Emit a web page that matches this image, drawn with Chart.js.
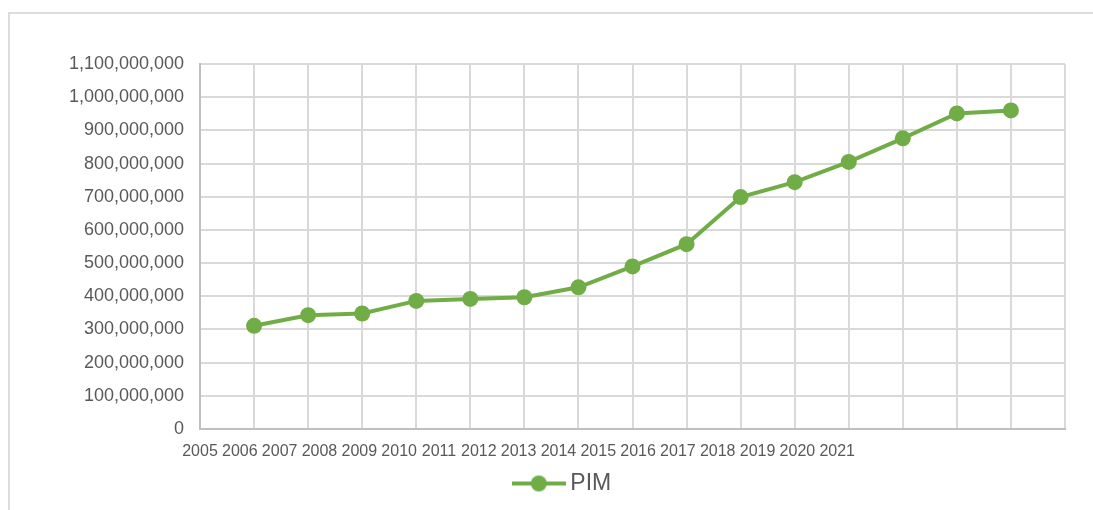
<!DOCTYPE html>
<html>
<head>
<meta charset="utf-8">
<script src="https://cdn.jsdelivr.net/npm/chart.js@4.4.0/dist/chart.umd.min.js"></script>
<style>
  html, body { margin: 0; padding: 0; background: #fff; }
  #wrap { position: relative; width: 1093px; height: 510px; overflow: hidden; }
  #frame { position: absolute; left: 8px; top: 12px; width: 1200px; height: 600px;
           border-left: 2px solid #dcdcdc; border-top: 2px solid #dcdcdc; }
  #chart { position: absolute; left: 0; top: 0; }
</style>
</head>
<body>
<div id="wrap">
  <div id="frame"></div>
  <canvas id="chart" width="1093" height="510"></canvas>
</div>
<script>
// categorías (años) y serie PIM
const yearLabels = ["2005", "2006", "2007", "2008", "2009", "2010", "2011", "2012", "2013",
  "2014", "2015", "2016", "2017", "2018", "2019", "2020", "2021"];
const pimValues = [null, 311000000, 343000000, 348000000, 386000000, 392000000, 397000000,
  427000000, 490000000, 557000000, 699000000, 744000000, 805000000, 876000000,
  951000000, 960000000, null];
const yTicks = { min: 0, max: 1100000000, step: 100000000 };

const GREEN = "#70AD47";
const TEXT = "#595959";

// icono de la leyenda: línea con marcador
function legendIcon() {
  const c = document.createElement("canvas");
  c.width = 54;
  c.height = 18;
  const g = c.getContext("2d");
  g.strokeStyle = GREEN;
  g.lineWidth = 4;
  g.beginPath();
  g.moveTo(0, 9);
  g.lineTo(54, 9);
  g.stroke();
  g.fillStyle = GREEN;
  g.beginPath();
  g.arc(27, 9, 8, 0, Math.PI * 2);
  g.fill();
  return c;
}
const icon = legendIcon();

new Chart(document.getElementById("chart"), {
  type: "line",
  data: {
    labels: yearLabels,
    datasets: [
      {
        label: "PIM",
        data: pimValues,
        borderColor: GREEN,
        backgroundColor: GREEN,
        borderWidth: 4,
        pointRadius: 8,
        pointHoverRadius: 8,
        pointBorderWidth: 0,
        pointBackgroundColor: GREEN,
        tension: 0,
        spanGaps: false,
      },
    ],
  },
  options: {
    responsive: false,
    animation: false,
    layout: { padding: { left: 65, right: 28, top: 64, bottom: 5 } },
    plugins: {
      tooltip: { enabled: false },
      legend: {
        position: "bottom",
        labels: {
          usePointStyle: true,
          pointStyleWidth: 40,
          color: TEXT,
          font: { family: "'Liberation Sans', Arial, sans-serif", size: 23 },
          generateLabels: (chart) =>
            chart.data.datasets.map((ds, i) => ({
              text: ds.label,
              fontColor: TEXT,
              pointStyle: icon,
              datasetIndex: i,
              lineWidth: 0,
            })),
        },
      },
    },
    scales: {
      x: {
        type: "category",
        offset: false,
        ticks: { display: false },
        grid: { color: "#d9d9d9", lineWidth: 2, drawTicks: false },
        border: { color: "#bfbfbf", width: 2 },
        afterFit: (s) => { s.height = 0; },
      },
      // eje de etiquetas de años (desalineado como en el original)
      x2: {
        type: "linear",
        position: "bottom",
        min: 2005,
        max: 2026.72,
        grid: { display: false },
        border: { display: false },
        ticks: {
          stepSize: 1,
          autoSkip: false,
          maxRotation: 0,
          minRotation: 0,
          includeBounds: false,
          padding: 5,
          color: TEXT,
          font: { family: "'Liberation Sans', Arial, sans-serif", size: 16 },
          callback: (v) => yearLabels[Math.round(v) - 2005] || "",
        },
        afterFit: (s) => { s.height = 33; },
      },
      y: {
        min: yTicks.min,
        max: yTicks.max,
        ticks: {
          stepSize: yTicks.step,
          padding: 16,
          color: TEXT,
          font: { family: "'Liberation Sans', Arial, sans-serif", size: 18 },
          callback: (v) => v.toLocaleString("en-US"),
        },
        grid: { color: "#d9d9d9", lineWidth: 2, drawTicks: false },
        border: { color: "#bfbfbf", width: 2 },
        afterFit: (s) => { s.width = 135; },
      },
    },
  },
});
</script>
</body>
</html>
